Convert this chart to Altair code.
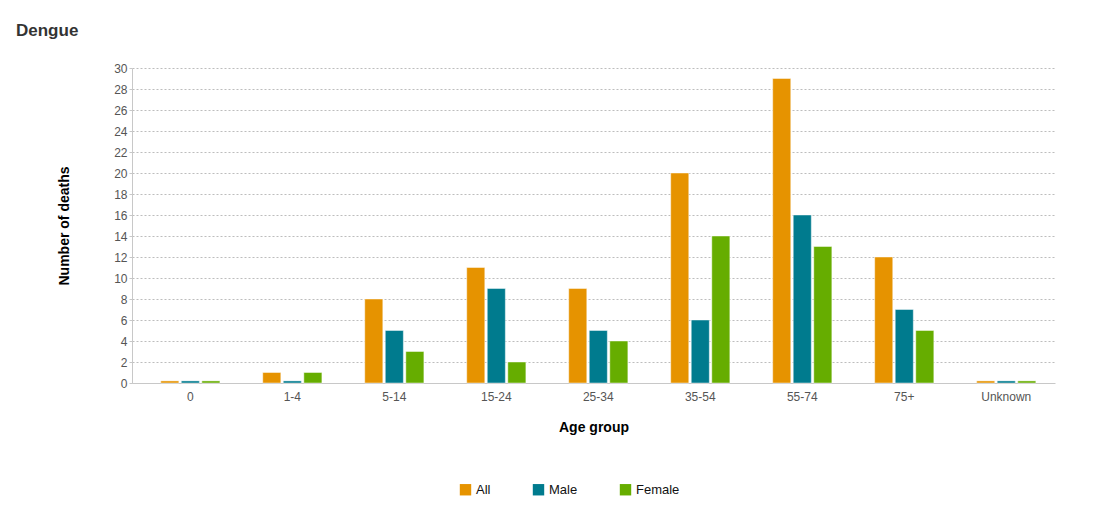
import altair as alt
import pandas as pd

age_groups = ["0", "1-4", "5-14", "15-24", "25-34", "35-54", "55-74", "75+", "Unknown"]
series = ["All", "Male", "Female"]
all_vals = [0, 1, 8, 11, 9, 20, 29, 12, 0]
male_vals = [0, 0, 5, 9, 5, 6, 16, 7, 0]
female_vals = [0, 1, 3, 2, 4, 14, 13, 5, 0]
colors = ["#E69300", "#007B8E", "#66AD00"]
y_ticks = list(range(0, 31, 2))

rows = []
for s, vals in zip(series, [all_vals, male_vals, female_vals]):
    for g, v in zip(age_groups, vals):
        rows.append({"Age group": g, "Series": s, "Deaths": v})
df = pd.DataFrame(rows)

font = "Liberation Sans"

chart = (
    alt.Chart(df)
    .transform_calculate(shown="max(datum.Deaths, 0.2)")
    .mark_bar(stroke="white", strokeWidth=1, strokeOpacity=0.45)
    .encode(
        x=alt.X(
            "Age group:N",
            sort=age_groups,
            scale=alt.Scale(paddingInner=0.42, paddingOuter=0.235, align=0.6),
            axis=alt.Axis(
                title="Age group",
                labelAngle=0,
                ticks=False,
                labelPadding=8,
                titlePadding=18,
                domainColor="#c8c8c8",
            ),
        ),
        xOffset=alt.XOffset("Series:N", sort=series, scale=alt.Scale(paddingInner=0.12)),
        y=alt.Y(
            "shown:Q",
            scale=alt.Scale(domain=[0, 30], nice=False),
            axis=alt.Axis(
                title="Number of deaths",
                values=y_ticks,
                tickSize=3,
                tickColor="#c8c8c8",
                domainColor="#c8c8c8",
                gridDash=[2, 2],
                gridColor="#bdbdbd",
                labelPadding=2,
                titlePadding=42,
            ),
        ),
        color=alt.Color(
            "Series:N",
            sort=series,
            scale=alt.Scale(domain=series, range=colors),
            legend=alt.Legend(
                title=None,
                orient="none",
                direction="horizontal",
                legendX=327,
                legendY=415,
                symbolType="square",
                symbolSize=130,
                symbolStrokeWidth=0,
                symbolOpacity=1,
                columnPadding=41,
                labelFontSize=13,
                labelColor="#111",
                labelFont=font,
            ),
        ),
        tooltip=["Age group", "Series", "Deaths"],
    )
    .properties(
        width=923,
        height=315,
        title=alt.TitleParams(
            "Dengue",
            anchor="start",
            frame="group",
            dx=-116,
            offset=22,
            fontSize=17,
            font=font,
            fontWeight="bold",
            color="#333333",
        ),
        autosize=alt.AutoSizeParams(type="none"),
        padding={"left": 124, "top": 60, "right": 55, "bottom": 120},
    )
    .configure_view(stroke=None)
    .configure_axis(
        labelFont=font,
        titleFont=font,
        labelFontSize=12,
        labelColor="#555555",
        titleFontSize=14,
        titleFontWeight="bold",
        titleColor="#000000",
    )
    .configure_axisX(grid=False)
)

chart.save("out.html", embed_options={"renderer": "svg", "actions": False})
